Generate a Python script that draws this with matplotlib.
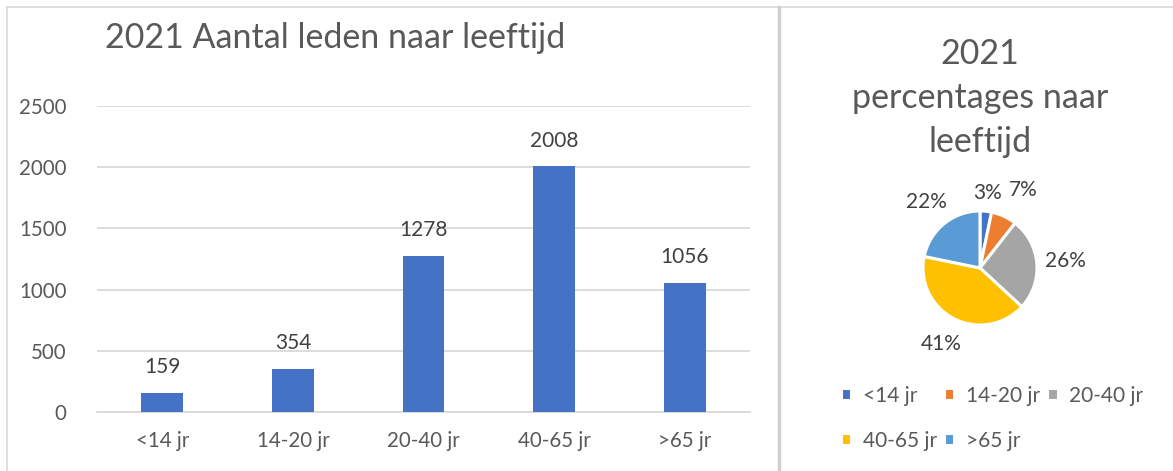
import matplotlib
matplotlib.use("Agg")
import matplotlib.pyplot as plt
from matplotlib.lines import Line2D
import numpy as np

plt.rcParams['font.family'] = ['Lato', 'DejaVu Sans']

# data
categories = ["<14 jr", "14-20 jr", "20-40 jr", "40-65 jr", ">65 jr"]
leden = [159, 354, 1278, 2008, 1056]
pie_colors = ["#4472C4", "#ED7D31", "#A5A5A5", "#FFC000", "#5B9BD5"]
yticks = [0, 500, 1000, 1500, 2000, 2500]

txt = "#595959"
grid = "#D9D9D9"

W, H = 1173, 471
fig = plt.figure(figsize=(W / 100, H / 100), dpi=100)

# panel borders
fig.add_artist(Line2D([7 / W, 1], [1 - 7 / H, 1 - 7 / H], color=grid, lw=1.2))
fig.add_artist(Line2D([7 / W, 7 / W], [0, 1 - 7 / H], color=grid, lw=1.2))
fig.add_artist(Line2D([779 / W, 779 / W], [0, 1 - 7 / H], color="#D0D0D0", lw=2.5))

# bar chart
ax = fig.add_axes([97 / W, 59 / H, 653 / W, 306 / H])
x = np.arange(len(categories))
bars = ax.bar(x, leden, width=0.32, color="#4472C4", zorder=3)
ax.set_xlim(-0.5, len(categories) - 0.5)
ax.set_ylim(0, 2500)
ax.set_yticks(yticks)
ax.set_xticks(x)
ax.set_xticklabels(categories)
ax.yaxis.grid(True, color=grid, lw=1.3, zorder=0)
for s in ["top", "right", "left"]:
    ax.spines[s].set_visible(False)
ax.spines["bottom"].set_color(grid)
ax.spines["bottom"].set_linewidth(1.3)
ax.tick_params(axis="both", length=0, colors=txt, labelsize=14.8)
ax.tick_params(axis="y", pad=22)
ax.tick_params(axis="x", pad=14)
for b, v in zip(bars, leden):
    ax.annotate(str(v), (b.get_x() + b.get_width() / 2, v), xytext=(0, 11),
                textcoords="offset points", ha="center", va="bottom",
                fontsize=15, color="#404040")
fig.text(105 / W, 1 - 38 / H, "2021 Aantal leden naar leeftijd", fontsize=24.5,
         color=txt, va="center", ha="left")

# pie chart
pax = fig.add_axes([880 / W, (H - 268 - 100) / H, 200 / W, 200 / H])
wedges, _, autotexts = pax.pie(leden, colors=pie_colors, startangle=90, counterclock=False,
                               autopct="%1.0f%%", pctdistance=1.5,
                               wedgeprops=dict(edgecolor="white", linewidth=2.2),
                               textprops=dict(color="#404040", fontsize=15))
# smallest slices: labels nudged apart
x0, y0 = autotexts[0].get_position()
autotexts[0].set_position((x0 * 1.33 / 1.5, y0 * 1.33 / 1.5))
x1, y1 = autotexts[1].get_position()
autotexts[1].set_position((x1 * 1.2, y1 * 1.0))
lim = 100 / 57
pax.set_xlim(-lim, lim)
pax.set_ylim(-lim, lim)
fig.text(980 / W, 1 - 98 / H, "2021\npercentages naar\nleeftijd", fontsize=24.5,
         color=txt, ha="center", va="center", linespacing=1.45)

# legend filled row by row
order = [0, 3, 1, 4, 2]
fig.legend([wedges[i] for i in order], [categories[i] for i in order],
           loc="upper left", bbox_to_anchor=(822 / W, 1 - 367 / H),
           ncol=3, frameon=False, fontsize=15, labelcolor=txt,
           handlelength=0.5, handleheight=0.5, handletextpad=0.55,
           columnspacing=0.35, labelspacing=1.2)

fig.savefig("out.png", dpi=100, facecolor="white")
